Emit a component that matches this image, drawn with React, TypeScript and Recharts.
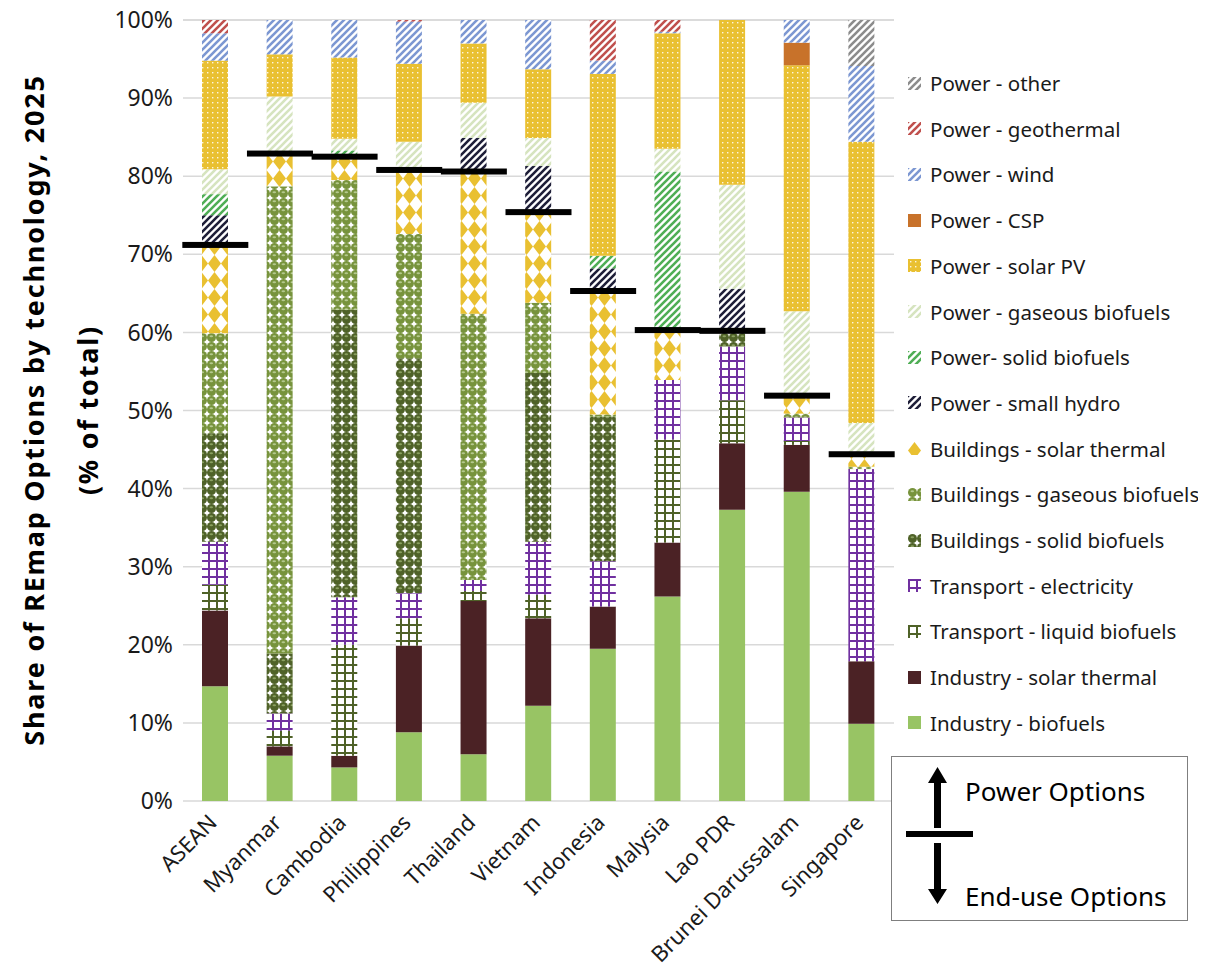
import React from 'react';
import { ComposedChart, Bar, Line, XAxis, YAxis, CartesianGrid } from 'recharts';

const categories = ['ASEAN', 'Myanmar', 'Cambodia', 'Philippines', 'Thailand', 'Vietnam', 'Indonesia', 'Malysia', 'Lao PDR', 'Brunei Darussalam', 'Singapore'];

// values in % of total, bottom of stack first
const industryBiofuels = [14.7, 5.8, 4.3, 8.8, 6.0, 12.2, 19.5, 26.2, 37.3, 39.6, 9.9];
const industrySolarThermal = [9.7, 1.2, 1.5, 11.1, 19.6, 11.2, 5.4, 6.9, 8.5, 6.0, 8.0];
const transportLiquid = [3.3, 2.0, 14.2, 3.5, 1.3, 3.0, 0, 13.2, 5.5, 0.5, 0];
const transportElectricity = [5.5, 2.2, 6.1, 3.2, 1.4, 6.8, 5.8, 7.6, 6.9, 3.0, 24.6];
const buildingsSolid = [13.9, 7.7, 36.8, 30.1, 0, 21.6, 18.5, 0, 2.0, 0, 0];
const buildingsGaseous = [12.8, 59.8, 16.6, 15.9, 34.1, 9.0, 0.3, 0, 0, 0.5, 0.3];
const buildingsSolarThermal = [11.3, 4.2, 3.0, 8.2, 18.2, 11.6, 15.8, 6.4, 0, 2.3, 1.6];
const powerSmallHydro = [3.8, 0, 0, 0, 4.3, 5.9, 2.9, 0, 5.4, 0, 0];
const powerSolidBio = [2.7, 0, 0.8, 0, 0, 0, 1.6, 20.3, 0, 0, 0];
const powerGaseousBio = [3.2, 7.3, 1.5, 3.6, 4.5, 3.6, 0, 2.9, 13.3, 10.8, 4.0];
const powerSolarPV = [13.9, 5.4, 10.4, 10.0, 7.6, 8.8, 23.3, 14.8, 21.1, 31.5, 36.0];
const powerCSP = [0, 0, 0, 0, 0, 0, 0, 0, 0, 2.9, 0];
const powerWind = [3.5, 4.4, 4.8, 5.4, 3.0, 6.3, 1.7, 0.2, 0, 2.9, 9.7];
const powerGeothermal = [1.7, 0, 0, 0.2, 0, 0, 5.2, 1.5, 0, 0, 0];
const powerOther = [0, 0, 0, 0, 0, 0, 0, 0, 0, 0, 5.9];

const yTicks = [0, 10, 20, 30, 40, 50, 60, 70, 80, 90, 100];

const series = [
  { key: 'ib', name: 'Industry - biofuels', values: industryBiofuels, fill: '#98c464', endUse: true },
  { key: 'ist', name: 'Industry - solar thermal', values: industrySolarThermal, fill: '#4b2225', endUse: true },
  { key: 'tl', name: 'Transport - liquid biofuels', values: transportLiquid, fill: 'url(#gridOlive)', endUse: true },
  { key: 'te', name: 'Transport - electricity', values: transportElectricity, fill: 'url(#gridPurple)', endUse: true },
  { key: 'bs', name: 'Buildings - solid biofuels', values: buildingsSolid, fill: 'url(#sphereDark)', endUse: true },
  { key: 'bg', name: 'Buildings - gaseous biofuels', values: buildingsGaseous, fill: 'url(#sphereLight)', endUse: true },
  { key: 'bst', name: 'Buildings - solar thermal', values: buildingsSolarThermal, fill: 'url(#diamonds)', endUse: true },
  { key: 'psh', name: 'Power - small hydro', values: powerSmallHydro, fill: 'url(#stripeNavy)', endUse: false },
  { key: 'psb', name: 'Power- solid biofuels', values: powerSolidBio, fill: 'url(#stripeGreen)', endUse: false },
  { key: 'pgb', name: 'Power - gaseous biofuels', values: powerGaseousBio, fill: 'url(#stripePale)', endUse: false },
  { key: 'pv', name: 'Power - solar PV', values: powerSolarPV, fill: 'url(#dotsYellow)', endUse: false },
  { key: 'csp', name: 'Power - CSP', values: powerCSP, fill: '#c8722a', endUse: false },
  { key: 'wind', name: 'Power - wind', values: powerWind, fill: 'url(#stripeBlue)', endUse: false },
  { key: 'geo', name: 'Power - geothermal', values: powerGeothermal, fill: 'url(#stripeRed)', endUse: false },
  { key: 'other', name: 'Power - other', values: powerOther, fill: 'url(#stripeGray)', endUse: false },
];

// end-use total = where the black divider sits
const data = categories.map((name, i) => {
  const row: any = { name };
  let endUse = 0;
  series.forEach((s) => {
    row[s.key] = s.values[i];
    if (s.endUse) endUse += s.values[i];
  });
  row.endUse = endUse;
  return row;
});

const FONT = '"Noto Sans", "Open Sans", sans-serif';

const stripe = (id: string, color: string) => (
  <pattern id={id} width="7" height="7" patternUnits="userSpaceOnUse">
    <rect width="7" height="7" fill="#fff" />
    <path d="M-1,1 l2,-2 M0,7 l7,-7 M6,8 l2,-2" stroke={color} strokeWidth="2.6" />
  </pattern>
);

const grid = (id: string, color: string) => (
  <pattern id={id} width="8" height="8" patternUnits="userSpaceOnUse">
    <rect width="8" height="8" fill="#fff" />
    <path d="M0,1 H8 M1,0 V8" stroke={color} strokeWidth="2" />
  </pattern>
);

const sphere = (id: string, color: string, hi: string) => (
  <pattern id={id} width="9" height="9" patternUnits="userSpaceOnUse">
    <rect width="9" height="9" fill="#fff" />
    <circle cx="4.5" cy="4.5" r="4.5" fill={color} />
    <ellipse cx="4.3" cy="3.2" rx="1.8" ry="1" fill={hi} />
  </pattern>
);

const Patterns = () => (
  <defs>
    {grid('gridOlive', '#4f6228')}
    {grid('gridPurple', '#7030a0')}
    {sphere('sphereDark', '#4f6228', '#8aa060')}
    {sphere('sphereLight', '#77933c', '#b5c98e')}
    <pattern id="diamonds" width="13" height="17" patternUnits="userSpaceOnUse">
      <rect width="13" height="17" fill="#fff" />
      <polygon points="6.5,0 13,8.5 6.5,17 0,8.5" fill="#e9c031" />
    </pattern>
    <pattern id="dotsYellow" width="5" height="5" patternUnits="userSpaceOnUse">
      <rect width="5" height="5" fill="#e9c031" />
      <rect x="2" y="2" width="1.4" height="1.4" fill="#fff" opacity="0.85" />
    </pattern>
    {stripe('stripeNavy', '#1e1e38')}
    {stripe('stripeGreen', '#4fae55')}
    {stripe('stripePale', '#d6e4bf')}
    {stripe('stripeBlue', '#7c97d2')}
    {stripe('stripeRed', '#c0504d')}
    {stripe('stripeGray', '#8c8c8c')}
  </defs>
);

const XTick = (props: any) => {
  const { x, payload } = props;
  const tx = x + 3;
  const ty = 824;
  return (
    <text x={tx} y={ty} transform={`rotate(-45, ${tx}, ${ty})`} textAnchor="end" fontSize={22} fill="#1a1a1a" fontFamily={FONT}>
      {payload.value}
    </text>
  );
};

const YTitle = () => (
  <g fontFamily={FONT} fontWeight="bold" fontSize={27} fill="#000" letterSpacing={1.8}>
    <text x={33} y={410} transform="rotate(-90, 33, 410)" textAnchor="middle" dominantBaseline="central">
      Share of REmap Options by technology, 2025
    </text>
    <text x={87} y={410} transform="rotate(-90, 87, 410)" textAnchor="middle" dominantBaseline="central">
      (% of total)
    </text>
  </g>
);

const Marker = (props: any) => {
  const { cx, cy, index } = props;
  if (cx == null || cy == null) return <g key={index} />;
  return <rect key={index} x={cx - 33} y={cy - 3} width={66} height={6} fill="#000" />;
};

export default function App() {
  const legendItems = [...series].reverse();
  return (
    <div style={{ position: 'relative', margin: -8, width: 1206, height: 972, fontFamily: FONT }}>
      <ComposedChart width={1206} height={972} data={data} margin={{ top: 20, right: 312, bottom: 0, left: 0 }} barCategoryGap={0}>
        <Patterns />
        <CartesianGrid vertical={false} stroke="#d9d9d9" strokeWidth={1.5} />
        <XAxis dataKey="name" axisLine={false} tickLine={false} height={171} interval={0} tick={<XTick />} />
        <YAxis
          width={183}
          domain={[0, 100]}
          ticks={yTicks}
          axisLine={false}
          tickLine={false}
          tickFormatter={(v) => `${v}%`}
          tick={{ fontSize: 23, fill: '#1a1a1a', fontFamily: FONT }}
          tickMargin={4}
          label={{ content: () => <YTitle /> }}
        />
        {series.map((s) => (
          <Bar key={s.key} dataKey={s.key} name={s.name} stackId="a" fill={s.fill} barSize={26} isAnimationActive={false} />
        ))}
        <Line dataKey="endUse" stroke="none" dot={<Marker />} activeDot={false} isAnimationActive={false} legendType="none" />
      </ComposedChart>

      {legendItems.map((s, i) => (
        <div key={s.key} style={{ position: 'absolute', left: 908, top: 84 + i * 45.7 - 14, height: 26, display: 'flex', alignItems: 'center', fontSize: 20.5, color: '#1a1a1a', whiteSpace: 'nowrap' }}>
          <svg width={13} height={13} style={{ marginRight: 9 }}>
            <rect width={13} height={13} fill={s.fill} />
          </svg>
          {s.name}
        </div>
      ))}

      <div style={{ position: 'absolute', left: 891, top: 756, width: 295, height: 163, border: '1.5px solid #7f7f7f', background: '#fff' }} />
      <svg style={{ position: 'absolute', left: 891, top: 756 }} width={300} height={170}>
        <polygon points="46.5,11 56,27 50,27 50,72 43,72 43,27 37,27" fill="#000" />
        <rect x={15} y={75} width={67} height={6} fill="#000" />
        <polygon points="46.5,148 56,133 50,133 50,87 43,87 43,133 37,133" fill="#000" />
        <text x={74} y={45} fontSize={26} fontFamily={FONT} fill="#000">Power Options</text>
        <text x={74} y={150} fontSize={26} fontFamily={FONT} fill="#000">End-use Options</text>
      </svg>
    </div>
  );
}
